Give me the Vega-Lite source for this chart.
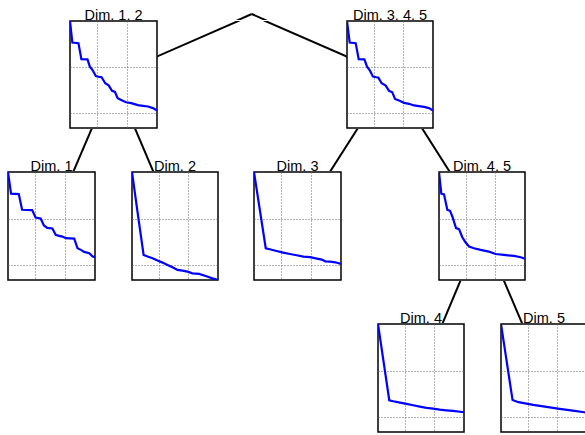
{
  "$schema": "https://vega.github.io/schema/vega-lite/v6.json",
  "padding": 0,
  "background": "white",
  "spacing": 0,
  "config": {
    "view": {"stroke": null},
    "axis": {"grid": true, "labels": false, "ticks": false, "domain": false, "gridDash": [1, 2], "gridColor": "#666666", "gridWidth": 1}
  },
  "datasets": {
    "nodes": [
      {"id": "root", "cx": 251.75, "cy": 14},
      {"id": "Dim. 1, 2", "cx": 113.5, "cy": 75.5, "top": 22, "parent": "root"},
      {"id": "Dim. 3, 4, 5", "cx": 390, "cy": 75.5, "top": 22, "parent": "root"},
      {"id": "Dim. 1", "cx": 51.5, "cy": 229, "top": 175, "parent": "Dim. 1, 2"},
      {"id": "Dim. 2", "cx": 175, "cy": 229, "top": 175, "parent": "Dim. 1, 2"},
      {"id": "Dim. 3", "cx": 297.5, "cy": 229, "top": 175, "parent": "Dim. 3, 4, 5"},
      {"id": "Dim. 4, 5", "cx": 482, "cy": 229, "top": 175, "parent": "Dim. 3, 4, 5"},
      {"id": "Dim. 4", "cx": 421, "cy": 383, "top": 329, "parent": "Dim. 4, 5"},
      {"id": "Dim. 5", "cx": 544, "cy": 383, "top": 329, "parent": "Dim. 4, 5"}
    ],
    "curves": [
      {"dim": "Dim. 1, 2", "r": 0, "v": 1}, {"dim": "Dim. 1, 2", "r": 0.027, "v": 0.799}, {"dim": "Dim. 1, 2", "r": 0.097, "v": 0.793}, {"dim": "Dim. 1, 2", "r": 0.131, "v": 0.644}, {"dim": "Dim. 1, 2", "r": 0.201, "v": 0.641}, {"dim": "Dim. 1, 2", "r": 0.228, "v": 0.573}, {"dim": "Dim. 1, 2", "r": 0.259, "v": 0.542}, {"dim": "Dim. 1, 2", "r": 0.297, "v": 0.486}, {"dim": "Dim. 1, 2", "r": 0.336, "v": 0.477}, {"dim": "Dim. 1, 2", "r": 0.363, "v": 0.474}, {"dim": "Dim. 1, 2", "r": 0.405, "v": 0.418}, {"dim": "Dim. 1, 2", "r": 0.444, "v": 0.399}, {"dim": "Dim. 1, 2", "r": 0.483, "v": 0.347}, {"dim": "Dim. 1, 2", "r": 0.517, "v": 0.337}, {"dim": "Dim. 1, 2", "r": 0.548, "v": 0.279}, {"dim": "Dim. 1, 2", "r": 0.606, "v": 0.254}, {"dim": "Dim. 1, 2", "r": 0.645, "v": 0.241}, {"dim": "Dim. 1, 2", "r": 0.703, "v": 0.232}, {"dim": "Dim. 1, 2", "r": 0.78, "v": 0.214}, {"dim": "Dim. 1, 2", "r": 0.838, "v": 0.207}, {"dim": "Dim. 1, 2", "r": 0.896, "v": 0.201}, {"dim": "Dim. 1, 2", "r": 0.954, "v": 0.186}, {"dim": "Dim. 1, 2", "r": 1, "v": 0.164},
      {"dim": "Dim. 3, 4, 5", "r": 0, "v": 1}, {"dim": "Dim. 3, 4, 5", "r": 0.031, "v": 0.799}, {"dim": "Dim. 3, 4, 5", "r": 0.101, "v": 0.793}, {"dim": "Dim. 3, 4, 5", "r": 0.136, "v": 0.644}, {"dim": "Dim. 3, 4, 5", "r": 0.202, "v": 0.641}, {"dim": "Dim. 3, 4, 5", "r": 0.233, "v": 0.573}, {"dim": "Dim. 3, 4, 5", "r": 0.267, "v": 0.536}, {"dim": "Dim. 3, 4, 5", "r": 0.302, "v": 0.48}, {"dim": "Dim. 3, 4, 5", "r": 0.341, "v": 0.474}, {"dim": "Dim. 3, 4, 5", "r": 0.364, "v": 0.471}, {"dim": "Dim. 3, 4, 5", "r": 0.403, "v": 0.418}, {"dim": "Dim. 3, 4, 5", "r": 0.45, "v": 0.396}, {"dim": "Dim. 3, 4, 5", "r": 0.488, "v": 0.347}, {"dim": "Dim. 3, 4, 5", "r": 0.527, "v": 0.334}, {"dim": "Dim. 3, 4, 5", "r": 0.558, "v": 0.272}, {"dim": "Dim. 3, 4, 5", "r": 0.612, "v": 0.254}, {"dim": "Dim. 3, 4, 5", "r": 0.663, "v": 0.235}, {"dim": "Dim. 3, 4, 5", "r": 0.721, "v": 0.226}, {"dim": "Dim. 3, 4, 5", "r": 0.779, "v": 0.211}, {"dim": "Dim. 3, 4, 5", "r": 0.837, "v": 0.204}, {"dim": "Dim. 3, 4, 5", "r": 0.895, "v": 0.198}, {"dim": "Dim. 3, 4, 5", "r": 0.953, "v": 0.186}, {"dim": "Dim. 3, 4, 5", "r": 1, "v": 0.164},
      {"dim": "Dim. 1", "r": 0, "v": 1}, {"dim": "Dim. 1", "r": 0.035, "v": 0.799}, {"dim": "Dim. 1", "r": 0.124, "v": 0.796}, {"dim": "Dim. 1", "r": 0.162, "v": 0.65}, {"dim": "Dim. 1", "r": 0.278, "v": 0.647}, {"dim": "Dim. 1", "r": 0.317, "v": 0.579}, {"dim": "Dim. 1", "r": 0.375, "v": 0.57}, {"dim": "Dim. 1", "r": 0.413, "v": 0.505}, {"dim": "Dim. 1", "r": 0.452, "v": 0.483}, {"dim": "Dim. 1", "r": 0.51, "v": 0.477}, {"dim": "Dim. 1", "r": 0.548, "v": 0.418}, {"dim": "Dim. 1", "r": 0.587, "v": 0.409}, {"dim": "Dim. 1", "r": 0.625, "v": 0.402}, {"dim": "Dim. 1", "r": 0.664, "v": 0.387}, {"dim": "Dim. 1", "r": 0.761, "v": 0.384}, {"dim": "Dim. 1", "r": 0.799, "v": 0.294}, {"dim": "Dim. 1", "r": 0.838, "v": 0.279}, {"dim": "Dim. 1", "r": 0.876, "v": 0.26}, {"dim": "Dim. 1", "r": 0.934, "v": 0.248}, {"dim": "Dim. 1", "r": 0.973, "v": 0.217}, {"dim": "Dim. 1", "r": 1, "v": 0.211},
      {"dim": "Dim. 2", "r": 0, "v": 1}, {"dim": "Dim. 2", "r": 0.066, "v": 0.619}, {"dim": "Dim. 2", "r": 0.135, "v": 0.232}, {"dim": "Dim. 2", "r": 0.181, "v": 0.217}, {"dim": "Dim. 2", "r": 0.239, "v": 0.201}, {"dim": "Dim. 2", "r": 0.297, "v": 0.18}, {"dim": "Dim. 2", "r": 0.355, "v": 0.161}, {"dim": "Dim. 2", "r": 0.413, "v": 0.139}, {"dim": "Dim. 2", "r": 0.471, "v": 0.118}, {"dim": "Dim. 2", "r": 0.529, "v": 0.093}, {"dim": "Dim. 2", "r": 0.587, "v": 0.087}, {"dim": "Dim. 2", "r": 0.645, "v": 0.077}, {"dim": "Dim. 2", "r": 0.703, "v": 0.062}, {"dim": "Dim. 2", "r": 0.78, "v": 0.056}, {"dim": "Dim. 2", "r": 0.857, "v": 0.037}, {"dim": "Dim. 2", "r": 0.934, "v": 0.015}, {"dim": "Dim. 2", "r": 1, "v": 0},
      {"dim": "Dim. 3", "r": 0, "v": 1}, {"dim": "Dim. 3", "r": 0.135, "v": 0.294}, {"dim": "Dim. 3", "r": 0.181, "v": 0.285}, {"dim": "Dim. 3", "r": 0.259, "v": 0.269}, {"dim": "Dim. 3", "r": 0.336, "v": 0.254}, {"dim": "Dim. 3", "r": 0.413, "v": 0.241}, {"dim": "Dim. 3", "r": 0.49, "v": 0.229}, {"dim": "Dim. 3", "r": 0.568, "v": 0.217}, {"dim": "Dim. 3", "r": 0.645, "v": 0.211}, {"dim": "Dim. 3", "r": 0.722, "v": 0.198}, {"dim": "Dim. 3", "r": 0.78, "v": 0.189}, {"dim": "Dim. 3", "r": 0.819, "v": 0.173}, {"dim": "Dim. 3", "r": 0.876, "v": 0.17}, {"dim": "Dim. 3", "r": 0.934, "v": 0.164}, {"dim": "Dim. 3", "r": 1, "v": 0.149},
      {"dim": "Dim. 4, 5", "r": 0, "v": 1}, {"dim": "Dim. 4, 5", "r": 0.027, "v": 0.799}, {"dim": "Dim. 4, 5", "r": 0.058, "v": 0.793}, {"dim": "Dim. 4, 5", "r": 0.097, "v": 0.65}, {"dim": "Dim. 4, 5", "r": 0.128, "v": 0.641}, {"dim": "Dim. 4, 5", "r": 0.155, "v": 0.588}, {"dim": "Dim. 4, 5", "r": 0.198, "v": 0.48}, {"dim": "Dim. 4, 5", "r": 0.233, "v": 0.471}, {"dim": "Dim. 4, 5", "r": 0.271, "v": 0.396}, {"dim": "Dim. 4, 5", "r": 0.31, "v": 0.347}, {"dim": "Dim. 4, 5", "r": 0.349, "v": 0.31}, {"dim": "Dim. 4, 5", "r": 0.407, "v": 0.294}, {"dim": "Dim. 4, 5", "r": 0.484, "v": 0.279}, {"dim": "Dim. 4, 5", "r": 0.581, "v": 0.263}, {"dim": "Dim. 4, 5", "r": 0.659, "v": 0.241}, {"dim": "Dim. 4, 5", "r": 0.756, "v": 0.232}, {"dim": "Dim. 4, 5", "r": 0.872, "v": 0.223}, {"dim": "Dim. 4, 5", "r": 0.95, "v": 0.211}, {"dim": "Dim. 4, 5", "r": 1, "v": 0.198},
      {"dim": "Dim. 4", "r": 0, "v": 1}, {"dim": "Dim. 4", "r": 0.131, "v": 0.294}, {"dim": "Dim. 4", "r": 0.178, "v": 0.285}, {"dim": "Dim. 4", "r": 0.255, "v": 0.272}, {"dim": "Dim. 4", "r": 0.332, "v": 0.26}, {"dim": "Dim. 4", "r": 0.409, "v": 0.248}, {"dim": "Dim. 4", "r": 0.486, "v": 0.235}, {"dim": "Dim. 4", "r": 0.564, "v": 0.223}, {"dim": "Dim. 4", "r": 0.641, "v": 0.217}, {"dim": "Dim. 4", "r": 0.718, "v": 0.207}, {"dim": "Dim. 4", "r": 0.795, "v": 0.201}, {"dim": "Dim. 4", "r": 0.873, "v": 0.195}, {"dim": "Dim. 4", "r": 1, "v": 0.183},
      {"dim": "Dim. 5", "r": 0, "v": 1}, {"dim": "Dim. 5", "r": 0.134, "v": 0.297}, {"dim": "Dim. 5", "r": 0.203, "v": 0.276}, {"dim": "Dim. 5", "r": 0.375, "v": 0.251}, {"dim": "Dim. 5", "r": 0.529, "v": 0.232}, {"dim": "Dim. 5", "r": 0.682, "v": 0.214}, {"dim": "Dim. 5", "r": 0.835, "v": 0.198}, {"dim": "Dim. 5", "r": 0.969, "v": 0.183}, {"dim": "Dim. 5", "r": 1, "v": 0.178}
    ]
  },
  "vconcat": [
    {"width": 585, "height": 20, "data": {"name": "nodes"}, "transform": [{"lookup": "parent", "from": {"data": {"name": "nodes"}, "key": "id", "fields": ["cx", "cy"]}, "as": ["pcx", "pcy"]}], "layer": [
      {"transform": [{"filter": "datum.parent === 'root'"}], "mark": {"type": "rule", "color": "black", "strokeWidth": 2, "clip": true}, "encoding": {"x": {"field": "pcx", "type": "quantitative", "scale": {"domain": [0, 585], "nice": false, "zero": false}, "axis": null}, "y": {"field": "pcy", "type": "quantitative", "scale": {"domain": [0, 20], "nice": false, "zero": false, "reverse": true}, "axis": null}, "x2": {"field": "cx"}, "y2": {"field": "cy"}}},
      {"transform": [{"filter": "datum.top === 22"}], "mark": {"type": "text", "font": "Liberation Sans", "fontSize": 14.5, "color": "black", "align": "center", "baseline": "alphabetic", "dy": -2, "clip": true}, "encoding": {"x": {"field": "cx", "type": "quantitative", "scale": {"domain": [0, 585], "nice": false, "zero": false}, "axis": null}, "y": {"field": "top", "type": "quantitative", "scale": {"domain": [0, 20], "nice": false, "zero": false, "reverse": true}, "axis": null}, "text": {"field": "id", "type": "nominal"}}}
    ]},
    {"hconcat": [
      {"width": 70, "height": 107, "data": {"values": []}, "mark": "point"},
      {"width": 87, "height": 107, "view": {"stroke": "black", "strokeWidth": 1.5}, "data": {"name": "curves"}, "transform": [{"filter": "datum.dim === 'Dim. 1, 2'"}], "mark": {"type": "line", "color": "#0000ff", "strokeWidth": 2.2, "clip": true}, "encoding": {"x": {"field": "r", "type": "quantitative", "scale": {"domain": [0, 1], "nice": false, "zero": false}, "axis": {"values": [0.309, 0.653], "title": null}}, "y": {"field": "v", "type": "quantitative", "scale": {"domain": [0, 1], "nice": false, "zero": false}, "axis": {"values": [0.136, 0.567], "title": null}}}},
      {"width": 190, "height": 107, "data": {"name": "nodes"}, "transform": [{"filter": "datum.parent === 'root'"}, {"lookup": "parent", "from": {"data": {"name": "nodes"}, "key": "id", "fields": ["cx", "cy"]}, "as": ["pcx", "pcy"]}], "mark": {"type": "rule", "color": "black", "strokeWidth": 2, "clip": true}, "encoding": {"x": {"field": "pcx", "type": "quantitative", "scale": {"domain": [157, 347], "nice": false, "zero": false}, "axis": null}, "y": {"field": "pcy", "type": "quantitative", "scale": {"domain": [20, 129], "nice": false, "zero": false, "reverse": true}, "axis": null}, "x2": {"field": "cx"}, "y2": {"field": "cy"}}},
      {"width": 86, "height": 107, "view": {"stroke": "black", "strokeWidth": 1.5}, "data": {"name": "curves"}, "transform": [{"filter": "datum.dim === 'Dim. 3, 4, 5'"}], "mark": {"type": "line", "color": "#0000ff", "strokeWidth": 2.2, "clip": true}, "encoding": {"x": {"field": "r", "type": "quantitative", "scale": {"domain": [0, 1], "nice": false, "zero": false}, "axis": {"values": [0.309, 0.653], "title": null}}, "y": {"field": "v", "type": "quantitative", "scale": {"domain": [0, 1], "nice": false, "zero": false}, "axis": {"values": [0.136, 0.567], "title": null}}}}
    ], "spacing": 0, "bounds": "flush"},
    {"width": 585, "height": 42, "data": {"name": "nodes"}, "transform": [{"lookup": "parent", "from": {"data": {"name": "nodes"}, "key": "id", "fields": ["cx", "cy", "top"]}, "as": ["pcx", "pcy", "ptop"]}], "layer": [
      {"transform": [{"filter": "datum.ptop === 22"}], "mark": {"type": "rule", "color": "black", "strokeWidth": 2, "clip": true}, "encoding": {"x": {"field": "pcx", "type": "quantitative", "scale": {"domain": [0, 585], "nice": false, "zero": false}, "axis": null}, "y": {"field": "pcy", "type": "quantitative", "scale": {"domain": [129.75, 174.25], "nice": false, "zero": false, "reverse": true}, "axis": null}, "x2": {"field": "cx"}, "y2": {"field": "cy"}}},
      {"transform": [{"filter": "datum.top === 175"}], "mark": {"type": "text", "font": "Liberation Sans", "fontSize": 14.5, "color": "black", "align": "center", "baseline": "alphabetic", "dy": -1, "clip": true}, "encoding": {"x": {"field": "cx", "type": "quantitative", "scale": {"domain": [0, 585], "nice": false, "zero": false}, "axis": null}, "y": {"field": "top", "type": "quantitative", "scale": {"domain": [129.75, 174.25], "nice": false, "zero": false, "reverse": true}, "axis": null}, "text": {"field": "id", "type": "nominal"}}}
    ]},
    {"hconcat": [
      {"width": 8, "height": 108, "data": {"values": []}, "mark": "point"},
      {"width": 87, "height": 108, "view": {"stroke": "black", "strokeWidth": 1.5}, "data": {"name": "curves"}, "transform": [{"filter": "datum.dim === 'Dim. 1'"}], "mark": {"type": "line", "color": "#0000ff", "strokeWidth": 2.2, "clip": true}, "encoding": {"x": {"field": "r", "type": "quantitative", "scale": {"domain": [0, 1], "nice": false, "zero": false}, "axis": {"values": [0.309, 0.653], "title": null}}, "y": {"field": "v", "type": "quantitative", "scale": {"domain": [0, 1], "nice": false, "zero": false}, "axis": {"values": [0.136, 0.567], "title": null}}}},
      {"width": 37, "height": 108, "data": {"values": []}, "mark": "point"},
      {"width": 86, "height": 108, "view": {"stroke": "black", "strokeWidth": 1.5}, "data": {"name": "curves"}, "transform": [{"filter": "datum.dim === 'Dim. 2'"}], "mark": {"type": "line", "color": "#0000ff", "strokeWidth": 2.2, "clip": true}, "encoding": {"x": {"field": "r", "type": "quantitative", "scale": {"domain": [0, 1], "nice": false, "zero": false}, "axis": {"values": [0.309, 0.653], "title": null}}, "y": {"field": "v", "type": "quantitative", "scale": {"domain": [0, 1], "nice": false, "zero": false}, "axis": {"values": [0.136, 0.567], "title": null}}}},
      {"width": 36, "height": 108, "data": {"values": []}, "mark": "point"},
      {"width": 87, "height": 108, "view": {"stroke": "black", "strokeWidth": 1.5}, "data": {"name": "curves"}, "transform": [{"filter": "datum.dim === 'Dim. 3'"}], "mark": {"type": "line", "color": "#0000ff", "strokeWidth": 2.2, "clip": true}, "encoding": {"x": {"field": "r", "type": "quantitative", "scale": {"domain": [0, 1], "nice": false, "zero": false}, "axis": {"values": [0.309, 0.653], "title": null}}, "y": {"field": "v", "type": "quantitative", "scale": {"domain": [0, 1], "nice": false, "zero": false}, "axis": {"values": [0.136, 0.567], "title": null}}}},
      {"width": 98, "height": 108, "data": {"values": []}, "mark": "point"},
      {"width": 86, "height": 108, "view": {"stroke": "black", "strokeWidth": 1.5}, "data": {"name": "curves"}, "transform": [{"filter": "datum.dim === 'Dim. 4, 5'"}], "mark": {"type": "line", "color": "#0000ff", "strokeWidth": 2.2, "clip": true}, "encoding": {"x": {"field": "r", "type": "quantitative", "scale": {"domain": [0, 1], "nice": false, "zero": false}, "axis": {"values": [0.309, 0.653], "title": null}}, "y": {"field": "v", "type": "quantitative", "scale": {"domain": [0, 1], "nice": false, "zero": false}, "axis": {"values": [0.136, 0.567], "title": null}}}}
    ], "spacing": 0, "bounds": "flush"},
    {"width": 585, "height": 42, "data": {"name": "nodes"}, "transform": [{"lookup": "parent", "from": {"data": {"name": "nodes"}, "key": "id", "fields": ["cx", "cy", "top"]}, "as": ["pcx", "pcy", "ptop"]}], "layer": [
      {"transform": [{"filter": "datum.ptop === 175"}], "mark": {"type": "rule", "color": "black", "strokeWidth": 2, "clip": true}, "encoding": {"x": {"field": "pcx", "type": "quantitative", "scale": {"domain": [0, 585], "nice": false, "zero": false}, "axis": null}, "y": {"field": "pcy", "type": "quantitative", "scale": {"domain": [283.75, 328.25], "nice": false, "zero": false, "reverse": true}, "axis": null}, "x2": {"field": "cx"}, "y2": {"field": "cy"}}},
      {"transform": [{"filter": "datum.top === 329"}], "mark": {"type": "text", "font": "Liberation Sans", "fontSize": 14.5, "color": "black", "align": "center", "baseline": "alphabetic", "dy": -1, "clip": true}, "encoding": {"x": {"field": "cx", "type": "quantitative", "scale": {"domain": [0, 585], "nice": false, "zero": false}, "axis": null}, "y": {"field": "top", "type": "quantitative", "scale": {"domain": [283.75, 328.25], "nice": false, "zero": false, "reverse": true}, "axis": null}, "text": {"field": "id", "type": "nominal"}}}
    ]},
    {"hconcat": [
      {"width": 378, "height": 108, "data": {"values": []}, "mark": "point"},
      {"width": 86, "height": 108, "view": {"stroke": "black", "strokeWidth": 1.5}, "data": {"name": "curves"}, "transform": [{"filter": "datum.dim === 'Dim. 4'"}], "mark": {"type": "line", "color": "#0000ff", "strokeWidth": 2.2, "clip": true}, "encoding": {"x": {"field": "r", "type": "quantitative", "scale": {"domain": [0, 1], "nice": false, "zero": false}, "axis": {"values": [0.309, 0.653], "title": null}}, "y": {"field": "v", "type": "quantitative", "scale": {"domain": [0, 1], "nice": false, "zero": false}, "axis": {"values": [0.136, 0.567], "title": null}}}},
      {"width": 37, "height": 108, "data": {"values": []}, "mark": "point"},
      {"width": 86, "height": 108, "view": {"stroke": "black", "strokeWidth": 1.5}, "data": {"name": "curves"}, "transform": [{"filter": "datum.dim === 'Dim. 5'"}], "mark": {"type": "line", "color": "#0000ff", "strokeWidth": 2.2, "clip": true}, "encoding": {"x": {"field": "r", "type": "quantitative", "scale": {"domain": [0, 1], "nice": false, "zero": false}, "axis": {"values": [0.309, 0.653], "title": null}}, "y": {"field": "v", "type": "quantitative", "scale": {"domain": [0, 1], "nice": false, "zero": false}, "axis": {"values": [0.136, 0.567], "title": null}}}}
    ], "spacing": 0, "bounds": "flush"}
  ]
}
